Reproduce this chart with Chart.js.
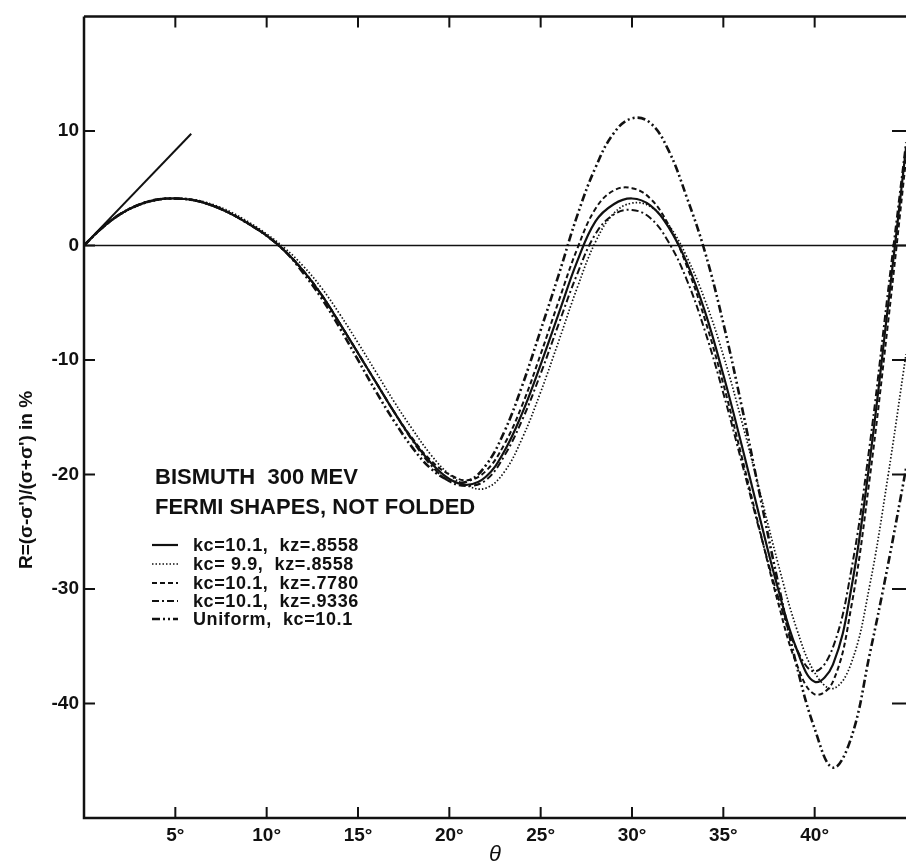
<!DOCTYPE html>
<html>
<head>
<meta charset="utf-8">
<script src="https://cdn.jsdelivr.net/npm/chart.js@4.4.1/dist/chart.umd.min.js"></script>
<style>
html, body { margin: 0; padding: 0; background: #fff; overflow: hidden; }
#wrap { width: 912px; height: 865px; }
</style>
</head>
<body>
<div id="wrap"><canvas id="grafico"></canvas></div>
<script>
// ==========================================
// Bismuth 300 MeV - R vs theta
// ==========================================

const theta = [0, 1, 2, 3, 4, 5, 6, 7, 8, 9, 10, 11, 12, 13, 14, 15, 16, 17, 18, 19, 20, 21, 22,
    23, 24, 25, 26, 27, 28, 29, 30, 31, 32, 33, 34, 35, 36, 37, 38, 39, 40, 41, 42, 43, 44, 45];

// kc=10.1, kz=.8558
const fermiA = [0, 1.55, 2.75, 3.55, 4.0, 4.1, 3.95, 3.5, 2.8, 1.9, 0.85, -0.5, -2.2, -4.3, -6.8, -9.4,
    -12.0, -14.6, -17.0, -19.0, -20.4, -20.9, -20.2, -18.0, -14.6, -10.4, -5.9, -1.4, 2.1, 3.6, 4.1,
    3.5, 1.6, -1.5, -5.8, -11.3, -17.4, -23.8, -30.0, -35.2, -38.1, -36.6, -30.0, -19.0, -5.5, 8.5];
// kc=9.9, kz=.8558
const fermiB = [0, 1.52, 2.7, 3.5, 3.95, 4.1, 4.0, 3.6, 2.95, 2.05, 1.0, -0.25, -1.8, -3.7, -6.0, -8.5,
    -11.1, -13.7, -16.1, -18.3, -20.0, -21.0, -21.2, -19.8, -16.8, -12.8, -8.3, -3.7, 0.3, 2.8, 3.7,
    3.4, 1.8, -1.0, -4.8, -9.6, -15.3, -21.5, -27.8, -33.4, -37.3, -38.7, -36.5, -29.8, -20.3, -9.5];
// kc=10.1, kz=.7780
const fermiC = [0, 1.55, 2.75, 3.55, 4.0, 4.1, 3.95, 3.5, 2.8, 1.9, 0.85, -0.5, -2.2, -4.3, -6.8, -9.4,
    -12.0, -14.6, -16.9, -18.8, -20.0, -20.5, -19.7, -17.4, -13.9, -9.5, -4.8, -0.3, 3.2, 4.8, 5.0,
    4.1, 1.8, -1.8, -6.5, -12.1, -18.4, -24.9, -31.2, -36.5, -39.2, -38.1, -31.6, -20.5, -7.0, 7.5];
// kc=10.1, kz=.9336
const fermiD = [0, 1.55, 2.75, 3.55, 4.0, 4.1, 3.95, 3.5, 2.8, 1.9, 0.85, -0.5, -2.2, -4.3, -6.8, -9.4,
    -12.0, -14.6, -17.1, -19.2, -20.6, -21.0, -20.5, -18.4, -15.2, -11.2, -6.8, -2.5, 1.0, 2.7, 3.1,
    2.4, 0.3, -3.0, -7.5, -12.9, -18.9, -25.0, -30.7, -35.2, -37.2, -35.1, -28.4, -17.6, -4.2, 9.0];
// Uniform, kc=10.1
const uniform = [0, 1.55, 2.75, 3.55, 4.0, 4.1, 3.95, 3.5, 2.8, 1.9, 0.85, -0.5, -2.4, -4.6, -7.2, -10.0,
    -12.8, -15.4, -17.7, -19.5, -20.5, -20.6, -19.2, -16.3, -12.2, -7.4, -2.5, 2.6, 6.8, 9.8, 11.1,
    10.7, 8.3, 4.2, -0.6, -6.8, -14.0, -21.8, -29.5, -36.6, -42.2, -45.6, -43.0, -35.8, -28.0, -19.5];

// tangent at the origin
const tangentX = [0, 5.87];
const tangentY = [0, 9.75];

const xTicks = [5, 10, 15, 20, 25, 30, 35, 40];
const yTicks = [10, 0, -10, -20, -30, -40];

const titleLines = ["BISMUTH  300 MEV", "FERMI SHAPES, NOT FOLDED"];

const FONT = "'Liberation Sans', Arial, sans-serif";
const INK = "#111";

function pts(xs, ys) {
    return xs.map((x, i) => ({ x: x, y: ys[i] }));
}

function serie(label, ys, dash, width) {
    return {
        label: label,
        data: pts(theta, ys),
        borderColor: INK,
        borderWidth: width,
        borderDash: dash,
        pointRadius: 0,
        tension: 0.4,
        fill: false
    };
}

const frame = {
    id: "frame",
    beforeDatasetsDraw(chart) {
        const { ctx, chartArea: a, scales: { y } } = chart;
        ctx.save();
        ctx.strokeStyle = INK;
        // zero line
        ctx.lineWidth = 1.5;
        ctx.beginPath();
        ctx.moveTo(a.left, y.getPixelForValue(0));
        ctx.lineTo(a.right, y.getPixelForValue(0));
        ctx.stroke();
        ctx.restore();
    },
    afterDraw(chart) {
        const { ctx, chartArea: a, scales: { x, y } } = chart;
        ctx.save();
        ctx.strokeStyle = INK;
        ctx.fillStyle = INK;
        ctx.lineWidth = 2.5;
        ctx.beginPath();
        ctx.moveTo(a.left, a.top);
        ctx.lineTo(a.right, a.top);
        ctx.moveTo(a.left, a.top);
        ctx.lineTo(a.left, a.bottom);
        ctx.lineTo(a.right, a.bottom);
        ctx.stroke();

        ctx.lineWidth = 2;
        ctx.beginPath();
        xTicks.forEach(v => {
            const px = x.getPixelForValue(v);
            ctx.moveTo(px, a.bottom);
            ctx.lineTo(px, a.bottom - 11);
            ctx.moveTo(px, a.top);
            ctx.lineTo(px, a.top + 11);
        });
        yTicks.forEach(v => {
            const py = y.getPixelForValue(v);
            ctx.moveTo(a.left, py);
            ctx.lineTo(a.left + 11, py);
            ctx.moveTo(a.right, py);
            ctx.lineTo(a.right - 14, py);
        });
        ctx.stroke();

        // y title
        ctx.save();
        ctx.translate(27, 480);
        ctx.rotate(-Math.PI / 2);
        ctx.font = "bold 19px " + FONT;
        ctx.textAlign = "center";
        ctx.textBaseline = "middle";
        ctx.fillText("R=(σ-σ')/(σ+σ') in %", 0, 0);
        ctx.restore();

        // x title
        ctx.font = "italic 22px " + FONT;
        ctx.textAlign = "center";
        ctx.textBaseline = "middle";
        ctx.fillText("θ", (a.left + a.right) / 2, 855);

        // caption
        ctx.font = "bold 22px " + FONT;
        ctx.textAlign = "left";
        ctx.fillText(titleLines[0], 155, 478);
        ctx.fillText(titleLines[1], 155, 508);

        // legend
        ctx.font = "bold 18px " + FONT;
        ctx.letterSpacing = "0.6px";
        const rows = [545, 564, 583, 601, 619];
        chart.data.datasets.slice(0, 5).forEach((ds, i) => {
            ctx.lineWidth = ds.borderWidth;
            ctx.setLineDash(ds.borderDash);
            ctx.beginPath();
            ctx.moveTo(152, rows[i]);
            ctx.lineTo(178, rows[i]);
            ctx.stroke();
            ctx.setLineDash([]);
            ctx.fillText(ds.label, 193, rows[i] + 1);
        });
        ctx.restore();
    }
};

const ctx = document.getElementById("grafico");

new Chart(ctx, {
    type: "line",
    data: {
        datasets: [
            serie("kc=10.1,  kz=.8558", fermiA, [], 2.2),
            serie("kc= 9.9,  kz=.8558", fermiB, [1.5, 2], 1.7),
            serie("kc=10.1,  kz=.7780", fermiC, [5, 3], 2),
            serie("kc=10.1,  kz=.9336", fermiD, [7, 3, 2, 3], 2),
            serie("Uniform,  kc=10.1", uniform, [8, 3, 2, 3, 2, 3], 2.6),
            {
                label: "tangent",
                data: pts(tangentX, tangentY),
                borderColor: INK,
                borderWidth: 2,
                pointRadius: 0,
                tension: 0
            }
        ]
    },
    options: {
        responsive: true,
        maintainAspectRatio: false,
        animation: false,
        devicePixelRatio: 1,
        layout: {
            padding: { top: 14, right: 0, bottom: 0, left: 0 }
        },
        plugins: {
            legend: { display: false },
            tooltip: { enabled: false }
        },
        scales: {
            x: {
                type: "linear",
                min: 0,
                max: 45,
                grid: { display: false, drawTicks: false },
                border: { display: false },
                afterFit: s => { s.height = 47; },
                ticks: {
                    stepSize: 5,
                    autoSkip: false,
                    maxRotation: 0,
                    padding: 6,
                    color: INK,
                    font: { family: FONT, size: 19, weight: "bold" },
                    callback: v => (xTicks.includes(v) ? v + "°" : "")
                }
            },
            y: {
                min: -50,
                max: 20,
                grid: { display: false, drawTicks: false },
                border: { display: false },
                afterFit: s => { s.width = 84; },
                ticks: {
                    stepSize: 10,
                    padding: 5,
                    color: INK,
                    font: { family: FONT, size: 19, weight: "bold" },
                    callback: v => (yTicks.includes(v) ? String(v) : "")
                }
            }
        }
    },
    plugins: [frame]
});
</script>
</body>
</html>
